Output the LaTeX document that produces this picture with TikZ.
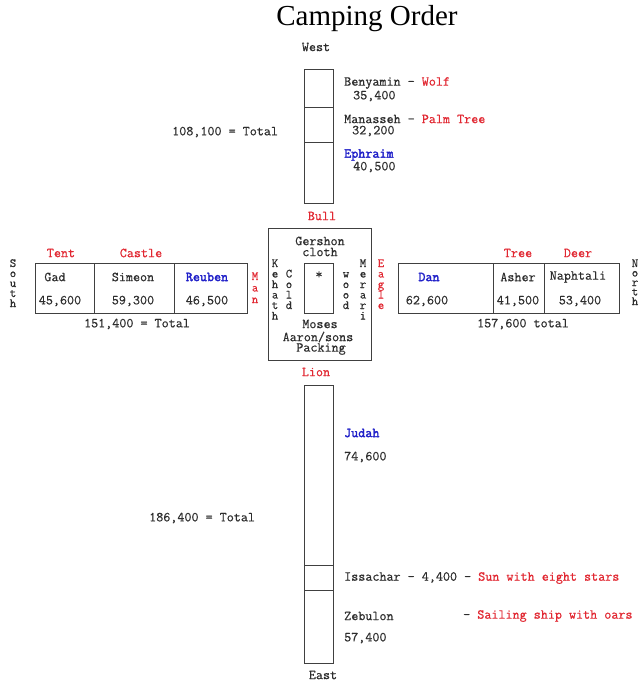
\documentclass[tikz,border=0pt]{standalone}
\usepackage{fontspec}
\newfontfamily\mono[FakeBold=0.6]{Latin Modern Mono}
\newfontfamily\monob[FakeBold=2.2]{Latin Modern Mono}
\newfontfamily\titlefont{Liberation Serif}
\definecolor{tred}{RGB}{225,40,50}
\definecolor{tblue}{RGB}{30,30,200}
\definecolor{tgray}{RGB}{45,45,45}
% vertical word: name, x, first baseline y, spacing, style, letters
\newcommand\vword[6]{\foreach \ch [count=\k] in {#6} {\node[#5, anchor=base] (#1\k) at (#2,{#3+(\k-1)*#4}) {\ch};}}
\begin{document}
\begin{tikzpicture}[x=1pt,y=-1pt,
  txt/.style={font=\mono\fontsize{13.7}{15}\selectfont, inner sep=0pt, text=tgray},
  tagred/.style={txt, text=tred},
  tagblue/.style={txt, text=tblue, font=\monob\fontsize{13.7}{15}\selectfont},
  vletter/.style={txt, font=\mono\fontsize{12.5}{13}\selectfont},
  vletterred/.style={vletter, text=tred},
  box/.style={draw=black!75, line width=1pt}
]
\useasboundingbox (0,0) rectangle (643,681);

% title
\node[inner sep=0pt, font=\titlefont\fontsize{29}{32}\selectfont] (title) at (367,19) {Camping Order};

% ---- West column ----
\node[txt] (west) at (316,47) {West};
\draw[box] (304,69) rectangle (333,203);
\draw[box] (304,107) -- (333,107);
\draw[box] (304,142) -- (333,142);
\node[txt, anchor=west] (benyamin) at (344,83) {Benyamin - {\color{tred}Wolf}};
\node[txt, anchor=west] (benyaminN) at (353,96) {35,400};
\node[txt, anchor=west] (manasseh) at (344,119) {Manasseh - {\color{tred}Palm Tree}};
\node[txt, anchor=west] (manassehN) at (352,131) {32,200};
\node[tagblue, anchor=west] (ephraim) at (344,155) {Ephraim};
\node[txt, anchor=west] (ephraimN) at (353,167) {40,500};
\node[txt, anchor=west] (westtotal) at (172,132) {108,100 = Total};
\node[tagred] (bull) at (322,216) {Bull};

% ---- South row ----
\vword{south}{13}{267}{10}{vletter}{S,o,u,t,h}
\draw[box] (35,263) rectangle (247,313);
\draw[box] (94,263) -- (94,313);
\draw[box] (174,263) -- (174,313);
\node[tagred] (tent) at (61,253) {Tent};
\node[tagred] (castle) at (141,253) {Castle};
\node[txt] (gad) at (55,277) {Gad};
\node[txt] (gadN) at (60,301) {45,600};
\node[txt] (simeon) at (133,277) {Simeon};
\node[txt] (simeonN) at (133,301) {59,300};
\node[tagblue] (reuben) at (207,277) {Reuben};
\node[txt] (reubenN) at (207,301) {46,500};
\node[txt] (southtotal) at (137,324) {151,400 = Total};
\vword{man}{255}{280}{11.5}{vletterred}{M,a,n}

% ---- Centre ----
\draw[box] (268,228) rectangle (371,360);
\draw[box] (304,263) rectangle (333,313);
\node[txt] (gershon) at (320,241) {Gershon};
\node[txt] (cloth) at (320,252) {cloth};
\vword{kehath}{275}{267}{10.5}{vletter}{K,e,h,a,t,h}
\vword{cold}{289}{277.5}{10.5}{vletter}{C,o,l,d}
\node[txt] (star) at (319,275) {*};
\vword{wood}{346}{277.5}{10.5}{vletter}{w,o,o,d}
\vword{merari}{363}{267}{10.5}{vletter}{M,e,r,a,r,i}
\vword{eagle}{381}{267}{10.5}{vletterred}{E,a,g,l,e}
\node[txt] (moses) at (320,324) {Moses};
\node[txt] (aaron) at (318,337) {Aaron/sons};
\node[txt] (packing) at (321,349) {Packing};

% ---- North row ----
\draw[box] (398,263) rectangle (619,313);
\draw[box] (493,263) -- (493,313);
\draw[box] (544,263) -- (544,313);
\node[tagred] (tree) at (518,253) {Tree};
\node[tagred] (deer) at (578,253) {Deer};
\node[tagblue] (dan) at (429,277) {Dan};
\node[txt] (danN) at (427,301) {62,600};
\node[txt] (asher) at (518,277) {Asher};
\node[txt] (asherN) at (518,301) {41,500};
\node[txt] (naphtali) at (578,277) {Naphtali};
\node[txt] (naphtaliN) at (580,301) {53,400};
\node[txt] (northtotal) at (523,324) {157,600 total};
\vword{north}{635}{267}{9.5}{vletter}{N,o,r,t,h}

% ---- East column ----
\node[tagred] (lion) at (316,372) {Lion};
\draw[box] (304,385) rectangle (333,663);
\draw[box] (304,565) -- (333,565);
\draw[box] (304,590) -- (333,590);
\node[tagblue, anchor=west] (judah) at (344,433) {Judah};
\node[txt, anchor=west] (judahN) at (344,457) {74,600};
\node[txt, anchor=west] (easttotal) at (149,518) {186,400 = Total};
\node[txt, anchor=west] (issachar) at (344,578) {Issachar - 4,400 - {\color{tred}Sun with eight stars}};
\node[txt, anchor=west] (zebulon) at (344,616) {Zebulon};
\node[txt, anchor=west] (zebulonsign) at (463,616) {- {\color{tred}Sailing ship with oars}};
\node[txt, anchor=west] (zebulonN) at (344,638) {57,400};
\node[txt] (east) at (323,675) {East};
\end{tikzpicture}
\end{document}
